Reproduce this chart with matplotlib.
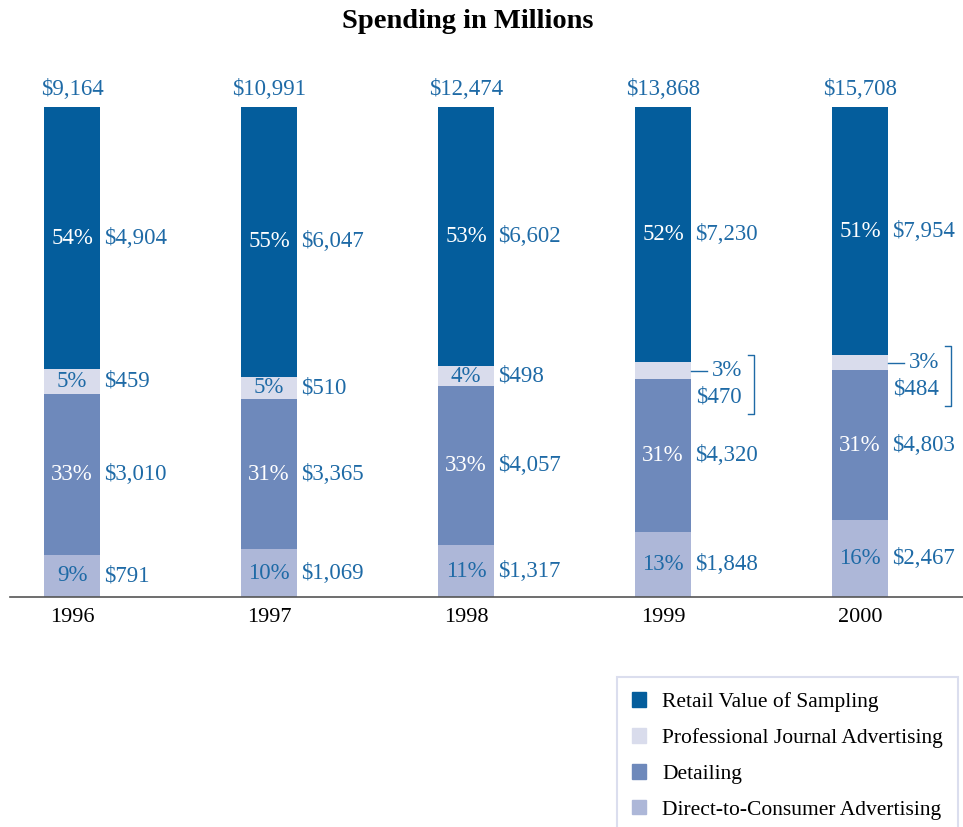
import numpy as np
import matplotlib
matplotlib.use('Agg')
import matplotlib.pyplot as plt

#Data
#--------------------------------
years=['1996','1997','1998','1999','2000']
totals=['$9,164','$10,991','$12,474','$13,868','$15,708']
retail=[4904,6047,6602,7230,7954]
journal=[459,510,498,470,484]
detailing=[3010,3365,4057,4320,4803]
dtc=[791,1069,1317,1848,2467]
retail_pct=[54,55,53,52,51]
journal_pct=[5,5,4,3,3]
detailing_pct=[33,31,33,31,31]
dtc_pct=[9,10,11,13,16]
labels=['Retail Value of Sampling','Professional Journal Advertising','Detailing','Direct-to-Consumer Advertising']
#--------------------------------

#Figure settings
c_retail='#045d9c';c_journal='#d9dcec';c_detail='#6e89bb';c_dtc='#adb7d8'
c_text='#1e6aa6'
plt.rcParams['font.family']=['Liberation Serif','DejaVu Serif']
size_lab=16.5;size_year=16;size_leg=15.5

fig=plt.figure(figsize=(9.63,8.27),dpi=100)
ax=fig.add_axes([10/963,(827-597)/827,953/963,490/827])

x=np.arange(len(years))
totv=np.array(retail)+np.array(journal)+np.array(detailing)+np.array(dtc)
series=[dtc,detailing,journal,retail]
pcts=[dtc_pct,detailing_pct,journal_pct,retail_pct]
cols=[c_dtc,c_detail,c_journal,c_retail]
pct_col=[c_text,'white',c_text,'white']
w=0.28
bottom=np.zeros(len(years))
for s,p,c,pc in zip(series,pcts,cols,pct_col):
    h=np.array(s)/totv*100
    ax.bar(x,h,w,bottom=bottom,color=c,linewidth=0)
    for i in range(len(years)):
        yc=bottom[i]+h[i]/2
        if s is journal and p[i]<4:
            # small slice: label to the side with bracket
            yl=yc
            ax.plot([x[i]+w/2,x[i]+w/2+0.085],[yl,yl],color=c_text,lw=1,clip_on=False)
            ax.text(x[i]+w/2+0.11,yl,'%d%%'%p[i],color=c_text,fontsize=size_lab,va='center',ha='left')
            ax.text(x[i]+w/2+0.03,yl-5.4,'$%d'%s[i],color=c_text,fontsize=size_lab,va='center',ha='left')
            bx=x[i]+w/2+0.32
            ax.plot([bx-0.03,bx,bx,bx-0.03],[yl+3.3,yl+3.3,yl-8.8,yl-8.8],color=c_text,lw=1,clip_on=False)
            continue
        ax.text(x[i],yc,'%d%%'%p[i],color=pc,fontsize=size_lab,ha='center',va='center')
        ax.text(x[i]+w/2+0.025,yc,'${:,}'.format(s[i]),color=c_text,fontsize=size_lab,ha='left',va='center')
    bottom+=h

for i in range(len(years)):
    ax.text(x[i],101.5,totals[i],color=c_text,fontsize=size_lab,ha='center',va='bottom')

ax.set_xlim(-62/197,891/197)
ax.set_ylim(0,100)
for sp in ['top','right','left']:
    ax.spines[sp].set_visible(False)
ax.spines['bottom'].set_color('#555555');ax.spines['bottom'].set_linewidth(1.2)
ax.set_yticks([])
ax.set_xticks(x)
ax.set_xticklabels(years,fontsize=size_year)
ax.tick_params(axis='x',length=0,pad=8)

fig.text(468/963,1-22/827,'Spending in Millions',fontsize=20.5,fontweight='bold',ha='center',va='center')

handles=[plt.Rectangle((0,0),1,1,color=c) for c in [c_retail,c_journal,c_detail,c_dtc]]
leg=fig.legend(handles,labels,loc='upper left',bbox_to_anchor=(617/963,1-677/827),fontsize=size_leg,
               frameon=True,fancybox=False,handlelength=0.65,handleheight=0.65,handletextpad=0.75,
               labelspacing=0.75,borderpad=0.7,borderaxespad=0)
leg.get_frame().set_edgecolor('#d3d6ea');leg.get_frame().set_linewidth(1.5)

plt.savefig('out.png',dpi=100)
